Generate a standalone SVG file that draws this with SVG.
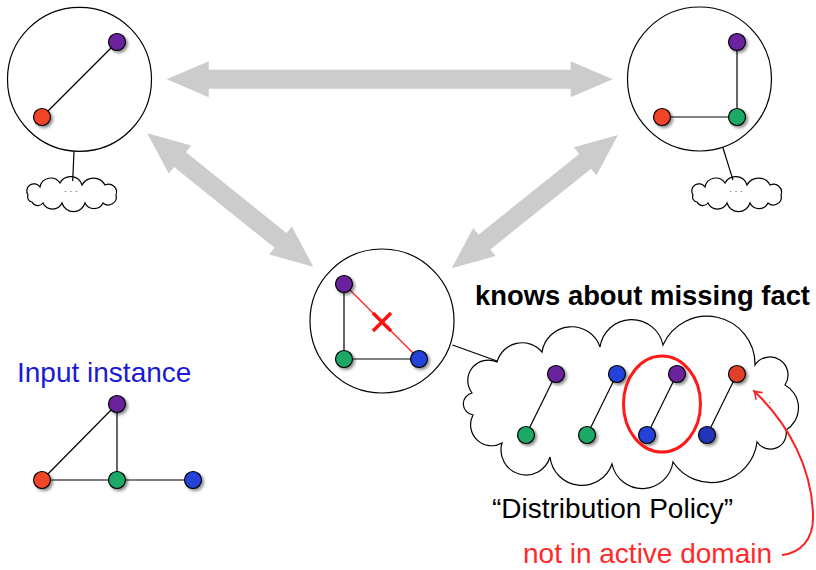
<svg xmlns="http://www.w3.org/2000/svg" width="816" height="570" viewBox="0 0 816 570">
  <defs>
    <filter id="shadow" x="-50%" y="-50%" width="200%" height="200%">
      <feDropShadow dx="2" dy="2" stdDeviation="1.6" flood-color="#000" flood-opacity="0.45"/>
    </filter>
    <marker id="redTip" viewBox="-8 -6 10 12" markerWidth="10" markerHeight="12" refX="0" refY="0" orient="auto" markerUnits="userSpaceOnUse">
      <path d="M -7 -4.5 Q -2.5 -1 0 0 Q -2.5 1 -7 4.5" fill="none" stroke="#ff2020" stroke-width="1.6" stroke-linecap="round"/>
    </marker>
    <!-- small scalloped cloud, centred on its origin -->
    <path id="smallCloud" d="M -44 3 A 7 7 0 0 1 -32 -5 A 11 11 0 0 1 -12 -9 A 12 12 0 0 1 10 -7 A 13 13 0 0 1 33 -7 A 8 8 0 0 1 44 3 A 8 8 0 0 1 31 11 A 10 10 0 0 1 13 11 A 12 12 0 0 1 -10 11 A 10.5 10.5 0 0 1 -29 11 A 6.5 6.5 0 0 1 -40 10 A 5 5 0 0 1 -44 3 Z"/>
  </defs>
  <style>
    .view { fill: #fff; stroke: #000; stroke-width: 1.2; }
    .edge { stroke: #000; stroke-width: 1.2; fill: none; }
    .cut { stroke: #ff2020; stroke-width: 1.2; fill: none; }
    .v { stroke: #000; stroke-width: 1.2; filter: url(#shadow); }
    .purple { fill: #6b229e; }
    .red { fill: #f04428; }
    .green { fill: #1ca865; }
    .blue { fill: #2142d8; }
    .dblue { fill: #2236b8; }
    .dred { fill: #e0402a; }
    .cloud { fill: #fff; stroke: #000; stroke-width: 1.2; }
    .flow { fill: #cccccc; }
    .lbl { font-family: "Liberation Sans", "DejaVu Sans", sans-serif; font-size: 28px; }
    .dots { font-family: "Liberation Sans", sans-serif; font-size: 9px; fill: #444; }
  </style>

  <!-- left view -->
  <g id="view-left">
    <circle class="view" cx="79.5" cy="79.3" r="72"/>
    <line class="edge" x1="42" y1="117" x2="117" y2="42"/>
    <circle class="v purple" cx="117" cy="42" r="8.5"/>
    <circle class="v red" cx="42" cy="117" r="8.5"/>
  </g>
  <g id="cloud-left">
    <use href="#smallCloud" class="cloud" transform="translate(72,192)"/>
    <text class="dots" x="71" y="194" text-anchor="middle">· · ·</text>
  </g>

  <!-- right view -->
  <g id="view-right">
    <circle class="view" cx="699.5" cy="79" r="72"/>
    <line class="edge" x1="737" y1="42" x2="737" y2="117"/>
    <line class="edge" x1="662" y1="117" x2="737" y2="117"/>
    <circle class="v purple" cx="737" cy="42" r="8.5"/>
    <circle class="v red" cx="662" cy="117" r="8.5"/>
    <circle class="v green" cx="737" cy="117" r="8.5"/>
  </g>
  <g id="cloud-right">
    <use href="#smallCloud" class="cloud" transform="translate(737,192)"/>
    <text class="dots" x="736" y="194" text-anchor="middle">· · ·</text>
  </g>

  <!-- middle view with the missing fact -->
  <g id="view-middle">
    <circle class="view" cx="382" cy="321" r="72"/>
    <line class="edge" x1="344" y1="284" x2="344" y2="359"/>
    <line class="edge" x1="344" y1="359" x2="419" y2="359"/>
    <line class="cut" x1="344" y1="284" x2="419" y2="359"/>
    <path d="M 373 313 L 391 331 M 391 313 L 373 331" stroke="#ff1010" stroke-width="3.5" fill="none"/>
    <circle class="v purple" cx="344" cy="284" r="8.5"/>
    <circle class="v green" cx="344" cy="359" r="8.5"/>
    <circle class="v blue" cx="419" cy="359" r="8.5"/>
  </g>

  <!-- distribution policy cloud -->
  <g id="policy-cloud">
    <path class="cloud" d="M 497 362 A 26 26 0 0 1 542 352 A 30 30 0 0 1 600 347 A 32 32 0 0 1 663 345 A 48 48 0 0 1 755 365 A 18 18 0 0 1 785 385 A 26 26 0 0 1 786 430 A 16 16 0 0 1 757 442 A 46 46 0 0 1 673 462 A 31 31 0 0 1 612 464 A 32 32 0 0 1 550 457 A 25 25 0 0 1 502 443 A 21 21 0 0 1 473 415 A 11.2 11.2 0 0 1 472 393 A 20.5 20.5 0 0 1 497 362 Z"/>
    <text class="dots" x="767" y="405" text-anchor="middle" fill="#999">· ·</text>
    <line class="edge" x1="526" y1="435" x2="556" y2="374"/>
    <line class="edge" x1="587" y1="435" x2="617" y2="374"/>
    <line class="edge" x1="647" y1="435" x2="677" y2="374"/>
    <line class="edge" x1="707" y1="435" x2="737" y2="374"/>
    <circle class="v purple" cx="556" cy="374" r="8.5"/>
    <circle class="v green" cx="526" cy="435" r="8.5"/>
    <circle class="v blue" cx="617" cy="374" r="8.5"/>
    <circle class="v green" cx="587" cy="435" r="8.5"/>
    <circle class="v purple" cx="677" cy="374" r="8.5"/>
    <circle class="v blue" cx="647" cy="435" r="8.5"/>
    <circle class="v dred" cx="737" cy="374" r="8.5"/>
    <circle class="v dblue" cx="707" cy="435" r="8.5"/>
    <ellipse cx="662" cy="404" rx="38.5" ry="48" fill="none" stroke="#ff1a1a" stroke-width="3"/>
  </g>

  <!-- input instance -->
  <g id="input-instance">
    <text class="lbl" x="17" y="382" font-size="27.3" fill="#1a1ad6">Input instance</text>
    <line class="edge" x1="42" y1="480" x2="117" y2="404"/>
    <line class="edge" x1="117" y1="404" x2="117" y2="480"/>
    <line class="edge" x1="42" y1="480" x2="193" y2="480"/>
    <circle class="v purple" cx="117" cy="404" r="8.5"/>
    <circle class="v red" cx="42" cy="480" r="8.5"/>
    <circle class="v green" cx="117" cy="480" r="8.5"/>
    <circle class="v blue" cx="193" cy="480" r="8.5"/>
  </g>

  <!-- labels -->
  <g id="labels">
    <text class="lbl" x="475" y="305" font-weight="bold" font-size="26.5" textLength="335" lengthAdjust="spacingAndGlyphs" fill="#000">knows about missing fact</text>
    <text class="lbl" x="492" y="518" fill="#000">“Distribution Policy”</text>
    <text class="lbl" x="523" y="563" fill="#ff2a2a">not in active domain</text>
  </g>

  <!-- grey double arrows between the three views, tethers and the red pointer -->
  <g id="connectors">
    <polygon class="flow" transform="translate(166.7,79.3)" points="0,0 42,-18 42,-9.5 404,-9.5 404,-18 446,0 404,18 404,9.5 42,9.5 42,18"/>
    <polygon class="flow" transform="translate(147.3,133.3) rotate(38.8)" points="0,0 42,-18 42,-9.5 171,-9.5 171,-18 213,0 171,18 171,9.5 42,9.5 42,18"/>
    <polygon class="flow" transform="translate(451.7,268.3) rotate(-38.7)" points="0,0 42,-18 42,-9.5 171,-9.5 171,-18 213,0 171,18 171,9.5 42,9.5 42,18"/>
    <line class="edge" x1="74" y1="151.3" x2="72.7" y2="181"/>
    <line class="edge" x1="722.7" y1="147" x2="733" y2="180"/>
    <line class="edge" x1="452.5" y1="345" x2="497" y2="361"/>
    <path d="M 782 555 C 800 553, 814 540, 813 515 C 812 470, 790 425, 754 391" fill="none" stroke="#ff2020" stroke-width="2" marker-end="url(#redTip)"/>
  </g>
</svg>
